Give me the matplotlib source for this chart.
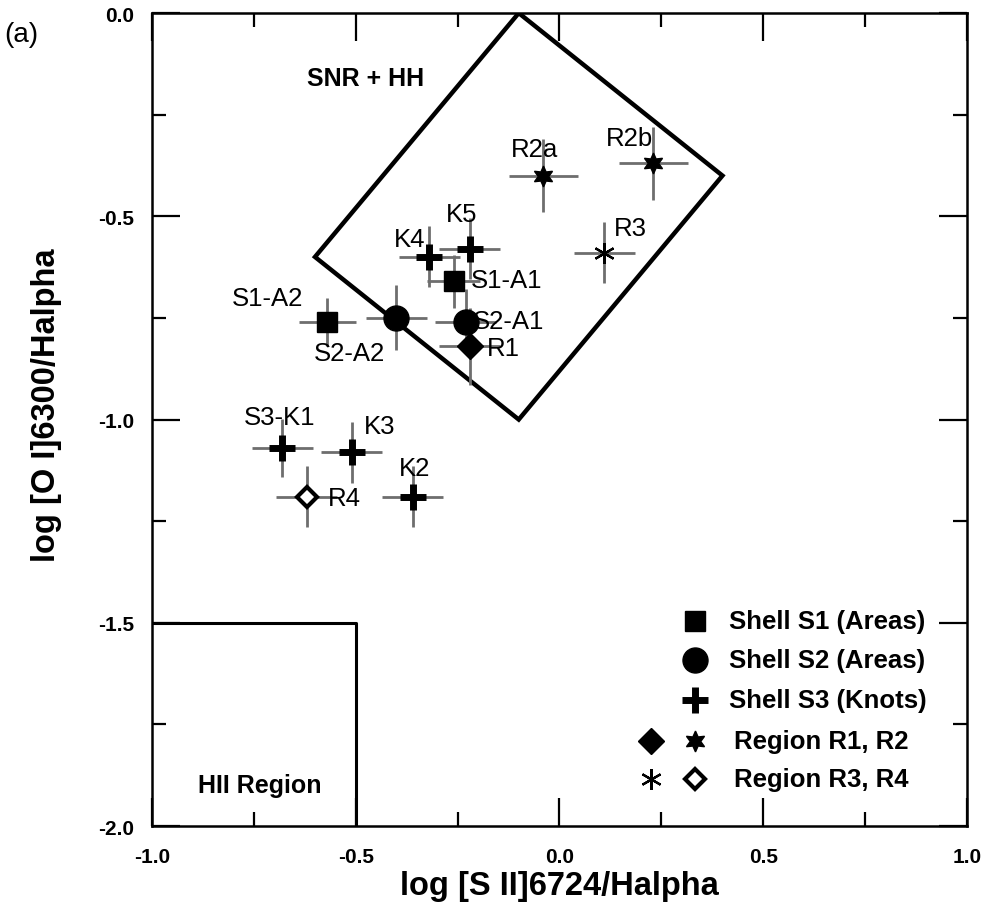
import numpy as np
import matplotlib
matplotlib.use('Agg')
import matplotlib.pyplot as plt
from matplotlib.ticker import MultipleLocator

plt.rcParams['font.family'] = ['Liberation Sans', 'DejaVu Sans']

# shell S1 (areas)
s1_names = ['S1-A1', 'S1-A2']
s1_x = [-0.26, -0.57]
s1_y = [-0.66, -0.76]
s1_xerr = [0.065, 0.07]
s1_yerr = [0.065, 0.06]

# shell S2 (areas)
s2_names = ['S2-A1', 'S2-A2']
s2_x = [-0.23, -0.40]
s2_y = [-0.76, -0.75]
s2_xerr = [0.075, 0.075]
s2_yerr = [0.08, 0.08]

# shell S3 (knots)
s3_names = ['S3-K1', 'K2', 'K3', 'K4', 'K5']
s3_x = [-0.68, -0.36, -0.51, -0.32, -0.22]
s3_y = [-1.07, -1.19, -1.08, -0.60, -0.58]
s3_xerr = [0.075, 0.075, 0.075, 0.075, 0.075]
s3_yerr = [0.072, 0.075, 0.075, 0.075, 0.075]

# regions
r1_names = ['R1']
r1_x = [-0.22]
r1_y = [-0.82]
r1_xerr = [0.075]
r1_yerr = [0.095]

r2_names = ['R2a', 'R2b']
r2_x = [-0.04, 0.23]
r2_y = [-0.40, -0.37]
r2_xerr = [0.085, 0.085]
r2_yerr = [0.09, 0.09]

r3_names = ['R3']
r3_x = [0.11]
r3_y = [-0.59]
r3_xerr = [0.075]
r3_yerr = [0.075]

r4_names = ['R4']
r4_x = [-0.62]
r4_y = [-1.19]
r4_xerr = [0.075]
r4_yerr = [0.075]

# diagnostic regions
snr_x = [-0.1, 0.4, -0.1, -0.6, -0.1]
snr_y = [0.0, -0.4, -1.0, -0.6, 0.0]
hii_x = [-1.0, -0.5, -0.5]
hii_y = [-1.5, -1.5, -2.0]

# label offsets in points
label_off = {
    'S1-A1': (38, 1), 'S1-A2': (-43, 17), 'S2-A1': (31, 1), 'S2-A2': (-34, -25),
    'R1': (24, -1), 'K4': (-14, 13), 'K5': (-6, 25), 'S3-K1': (-2, 22),
    'K3': (20, 19), 'K2': (1, 21), 'R4': (27, -1), 'R2a': (-6, 19),
    'R2b': (-17, 18), 'R3': (19, 18),
}

star6 = (6, 1, 0)
aster = (6, 2, 0)
styles = [
    (s1_names, s1_x, s1_y, s1_xerr, s1_yerr, dict(marker='s', ms=14, mfc='black', mec='black')),
    (s2_names, s2_x, s2_y, s2_xerr, s2_yerr, dict(marker='o', ms=18, mfc='black', mec='black')),
    (s3_names, s3_x, s3_y, s3_xerr, s3_yerr, dict(marker='+', ms=19, mec='black', mew=5)),
    (r1_names, r1_x, r1_y, r1_xerr, r1_yerr, dict(marker='D', ms=13, mfc='black', mec='black')),
    (r2_names, r2_x, r2_y, r2_xerr, r2_yerr, dict(marker=star6, ms=15, mfc='black', mec='black')),
    (r3_names, r3_x, r3_y, r3_xerr, r3_yerr, dict(marker=aster, ms=15, mec='black', mew=1.6)),
    (r4_names, r4_x, r4_y, r4_xerr, r4_yerr, dict(marker='D', ms=10, mfc='white', mec='black', mew=3)),
]

fig = plt.figure(figsize=(9.85, 9.12), dpi=100)
ax = fig.add_axes([0.1543, 0.0932, 0.8274, 0.8914])

ax.plot(snr_x, snr_y, color='black', lw=3.2, solid_joinstyle='miter', zorder=1)
ax.plot(hii_x, hii_y, color='black', lw=2.2, zorder=1)

for names, xs, ys, xe, ye, st in styles:
    ax.errorbar(xs, ys, xerr=xe, yerr=ye, fmt='none', ecolor='#6e6e6e', elinewidth=2, capsize=0, zorder=2)
    ax.plot(xs, ys, ls='none', zorder=3, **st)
    for n, x, y in zip(names, xs, ys):
        ax.annotate(n, (x, y), xytext=label_off[n], textcoords='offset points',
                    ha='center', va='center', fontsize=18.5, zorder=4)

ax.text(-0.475, -0.16, 'SNR + HH', fontsize=18, fontweight='bold', ha='center', va='center')
ax.text(-0.735, -1.90, 'HII Region', fontsize=18, fontweight='bold', ha='center', va='center')

# legend drawn by hand
leg_rows = [
    (['s'], 'Shell S1 (Areas)'),
    (['o'], 'Shell S2 (Areas)'),
    (['+'], 'Shell S3 (Knots)'),
    (['D', star6], 'Region R1, R2'),
    ([aster, 'Dopen'], 'Region R3, R4'),
]
leg_y = [0.252, 0.204, 0.155, 0.104, 0.058]
leg_style = {
    's': dict(marker='s', ms=14, mfc='black', mec='black'),
    'o': dict(marker='o', ms=18, mfc='black', mec='black'),
    '+': dict(marker='+', ms=19, mec='black', mew=5),
    'D': dict(marker='D', ms=13, mfc='black', mec='black'),
    star6: dict(marker=star6, ms=15, mfc='black', mec='black'),
    aster: dict(marker=aster, ms=15, mec='black', mew=1.6),
    'Dopen': dict(marker='D', ms=10, mfc='white', mec='black', mew=3),
}
for (marks, label), yy in zip(leg_rows, leg_y):
    if len(marks) == 1:
        ax.plot([0.6668], [yy], transform=ax.transAxes, ls='none', clip_on=False, **leg_style[marks[0]])
        ax.text(0.708, yy, label, transform=ax.transAxes, fontsize=18.5, fontweight='bold', va='center')
    else:
        ax.plot([0.6128], [yy], transform=ax.transAxes, ls='none', clip_on=False, **leg_style[marks[0]])
        ax.plot([0.6668], [yy], transform=ax.transAxes, ls='none', clip_on=False, **leg_style[marks[1]])
        ax.text(0.714, yy, label, transform=ax.transAxes, fontsize=18.5, fontweight='bold', va='center')

ax.set_xlim(-1.0, 1.0)
ax.set_ylim(-2.0, 0.0)
ax.xaxis.set_major_locator(MultipleLocator(0.5))
ax.xaxis.set_minor_locator(MultipleLocator(0.25))
ax.yaxis.set_major_locator(MultipleLocator(0.5))
ax.yaxis.set_minor_locator(MultipleLocator(0.25))
ax.xaxis.set_major_formatter(plt.FuncFormatter(lambda v, p: f'{v:.1f}'))
ax.yaxis.set_major_formatter(plt.FuncFormatter(lambda v, p: f'{v:.1f}'))
ax.tick_params(which='both', direction='in', top=True, right=True, width=1.6)
ax.tick_params(which='major', length=20)
ax.tick_params(which='minor', length=10)
ax.tick_params(axis='x', which='major', pad=15, labelsize=15)
ax.tick_params(axis='y', which='major', pad=13, labelsize=15)
for lab in ax.get_xticklabels() + ax.get_yticklabels():
    lab.set_fontweight('bold')
for sp in ax.spines.values():
    sp.set_linewidth(1.8)

ax.set_xlabel('log [S II]6724/Halpha', fontsize=23.5, fontweight='bold', labelpad=3)
ax.set_ylabel('log [O I]6300/Halpha', fontsize=23.5, fontweight='bold', labelpad=26, y=0.519)

fig.text(0.004, 0.962, '(a)', fontsize=20, va='center', ha='left')

fig.savefig('out.png', dpi=100)
